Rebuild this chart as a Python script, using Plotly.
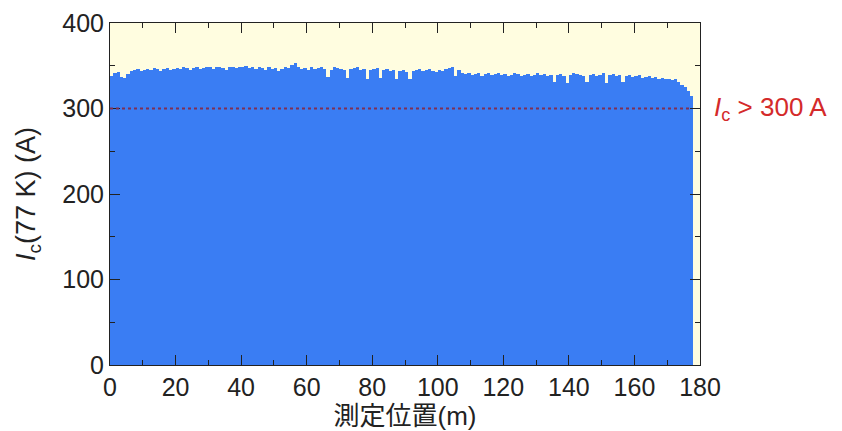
import plotly.graph_objects as go

# Measurement position (m), 1 m bins, and critical current Ic (A) at 77 K
positions = [i + 0.5 for i in range(178)]
ic_values = [
    338, 342, 343, 337, 336, 340, 344, 345, 346, 344,
    345, 346, 345, 347, 346, 344, 346, 347, 345, 346,
    347, 346, 348, 347, 345, 347, 348, 346, 347, 349,
    348, 346, 348, 349, 347, 345, 348, 349, 347, 348,
    349, 350, 347, 348, 346, 349, 347, 345, 348, 346,
    347, 344, 346, 348, 347, 351, 353, 348, 346, 347,
    345, 348, 346, 347, 349, 346, 337, 345, 348, 347,
    346, 345, 336, 346, 347, 348, 345, 346, 335, 345,
    346, 347, 336, 345, 346, 344, 345, 334, 344, 345,
    343, 335, 344, 345, 346, 344, 345, 346, 344, 343,
    345, 344, 346, 347, 348, 338, 345, 342, 340, 341,
    339, 340, 341, 338, 340, 341, 339, 340, 342, 339,
    340, 338, 339, 341, 340, 338, 339, 340, 338, 339,
    341, 339, 340, 338, 339, 331, 339, 340, 338, 330,
    339, 341, 340, 339, 338, 331, 339, 340, 338, 339,
    341, 330, 339, 340, 338, 339, 331, 338, 339, 337,
    338, 339, 336, 337, 338, 336, 337, 335, 336, 334,
    335, 333, 334, 331, 328, 325, 320, 315,
]
threshold = 300
x_ticks = [0, 20, 40, 60, 80, 100, 120, 140, 160, 180]
y_ticks = [0, 100, 200, 300, 400]

FONT = "Arial, 'Liberation Sans', 'Noto Sans CJK JP', sans-serif"

fig = go.Figure()
fig.add_trace(go.Bar(
    x=positions, y=ic_values, width=1.0,
    marker=dict(color="#3A7DF3", line=dict(width=0)),
    showlegend=False, hoverinfo="skip",
))

fig.add_shape(type="line", xref="x", yref="y",
              x0=0, x1=177, y0=threshold, y1=threshold,
              line=dict(color="#7e2f55", width=2, dash="dot"), layer="above")

fig.add_annotation(xref="paper", yref="y", x=1.02, y=threshold,
                   xanchor="left", yanchor="middle", showarrow=False,
                   text="<i>I</i><sub>c</sub> > 300 A",
                   font=dict(family=FONT, size=26, color="#d42a2a"))

fig.update_layout(
    width=842, height=431,
    margin=dict(l=110, r=142, t=23, b=66),
    paper_bgcolor="white", plot_bgcolor="#FFFDE0",
    bargap=0,
    font=dict(family=FONT, size=25, color="#222"),
)
fig.update_xaxes(
    range=[0, 180], tickvals=x_ticks, ticktext=[str(v) for v in x_ticks],
    ticks="inside", ticklen=10, tickcolor="#222", tickwidth=1,
    minor=dict(ticks="inside", ticklen=5, dtick=10, tickcolor="#222"),
    showline=True, linecolor="#222", linewidth=1, mirror="allticks",
    showgrid=False, zeroline=False, automargin=False,
    title=dict(text="測定位置(m)", font=dict(size=26), standoff=0),
)
fig.update_yaxes(
    range=[0, 400], tickvals=y_ticks, ticktext=[str(v) for v in y_ticks],
    ticks="inside", ticklen=10, tickcolor="#222", tickwidth=1,
    minor=dict(ticks="inside", ticklen=5, dtick=50, tickcolor="#222"),
    showline=True, linecolor="#222", linewidth=1, mirror="allticks",
    showgrid=False, zeroline=False, automargin=False,
    title=dict(text="<i>I</i><sub>c</sub>(77 K) (A)", font=dict(size=27), standoff=18),
)

fig.write_html("out.html", config={"displayModeBar": False},
               post_script="document.body.style.margin='0px';document.body.style.overflow='hidden';")
